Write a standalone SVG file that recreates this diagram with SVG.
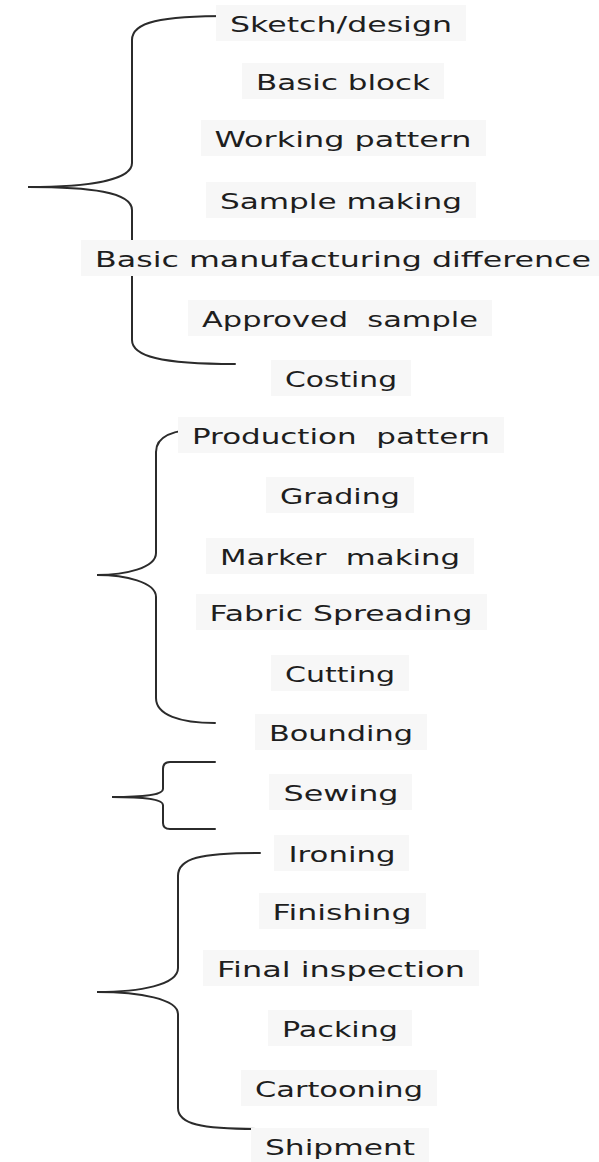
<svg xmlns="http://www.w3.org/2000/svg" width="599" height="1162" viewBox="0 0 599 1162">
<style>
  .bg { fill: #f7f7f7; }
  .lbl { font-family: "DejaVu Sans", "Liberation Sans", sans-serif; font-size: 21px; fill: #1e1e1e; text-anchor: middle; white-space: pre; }
  .brace { fill: none; stroke: #2b2b2b; stroke-width: 2; stroke-linecap: round; }
</style>
<rect width="599" height="1162" fill="#ffffff"/>
<g id="connectors">
  <path class="brace" d="M230,16 C160,16 132,22 132,40 L132,163 C132,180 90,187 28,187 C90,187 132,192 132,210 L132,340 C132,356 160,364 235,364"/>
  <path class="brace" d="M205,429 C175,429 156,436 156,452 L156,553 C156,568 125,575 97,575 C125,575 156,582 156,597 L156,698 C156,715 180,723 215,723"/>
  <path class="brace" d="M215,762 L170,762 C165,762 163,764 163,769 L163,789 C163,794 150,797 112,797 C150,797 163,800 163,805 L163,823 C163,827 165,829 170,829 L215,829"/>
  <path class="brace" d="M260,853 C200,853 178,858 178,876 L178,968 C178,985 140,992 97,992 C140,992 178,999 178,1014 L178,1108 C178,1124 200,1129 260,1129"/>
</g>
<g id="n1"><rect class="bg" x="216" y="5" width="250" height="36"/><text class="lbl" x="341" y="32" textLength="222" lengthAdjust="spacingAndGlyphs">Sketch/design</text></g>
<g id="n2"><rect class="bg" x="242" y="63" width="202" height="36"/><text class="lbl" x="343" y="90" textLength="174" lengthAdjust="spacingAndGlyphs">Basic block</text></g>
<g id="n3"><rect class="bg" x="201" y="120" width="285" height="36"/><text class="lbl" x="343" y="147" textLength="257" lengthAdjust="spacingAndGlyphs">Working pattern</text></g>
<g id="n4"><rect class="bg" x="206" y="182" width="270" height="36"/><text class="lbl" x="341" y="209" textLength="242" lengthAdjust="spacingAndGlyphs">Sample making</text></g>
<g id="n5"><rect class="bg" x="81" y="240" width="518" height="36"/><text class="lbl" x="343" y="267" textLength="496" lengthAdjust="spacingAndGlyphs">Basic manufacturing difference</text></g>
<g id="n6"><rect class="bg" x="188" y="300" width="304" height="36"/><text class="lbl" x="340" y="327" textLength="276" lengthAdjust="spacingAndGlyphs">Approved  sample</text></g>
<g id="n7"><rect class="bg" x="271" y="360" width="140" height="36"/><text class="lbl" x="341" y="387" textLength="112" lengthAdjust="spacingAndGlyphs">Costing</text></g>
<g id="n8"><rect class="bg" x="178" y="417" width="326" height="36"/><text class="lbl" x="341" y="444" textLength="298" lengthAdjust="spacingAndGlyphs">Production  pattern</text></g>
<g id="n9"><rect class="bg" x="266" y="477" width="148" height="36"/><text class="lbl" x="340" y="504" textLength="120" lengthAdjust="spacingAndGlyphs">Grading</text></g>
<g id="n10"><rect class="bg" x="206" y="538" width="268" height="36"/><text class="lbl" x="340" y="565" textLength="240" lengthAdjust="spacingAndGlyphs">Marker  making</text></g>
<g id="n11"><rect class="bg" x="196" y="594" width="291" height="36"/><text class="lbl" x="341" y="621" textLength="263" lengthAdjust="spacingAndGlyphs">Fabric Spreading</text></g>
<g id="n12"><rect class="bg" x="271" y="655" width="138" height="36"/><text class="lbl" x="340" y="682" textLength="110" lengthAdjust="spacingAndGlyphs">Cutting</text></g>
<g id="n13"><rect class="bg" x="255" y="714" width="172" height="36"/><text class="lbl" x="341" y="741" textLength="144" lengthAdjust="spacingAndGlyphs">Bounding</text></g>
<g id="n14"><rect class="bg" x="269" y="774" width="143" height="36"/><text class="lbl" x="341" y="801" textLength="115" lengthAdjust="spacingAndGlyphs">Sewing</text></g>
<g id="n15"><rect class="bg" x="274" y="835" width="135" height="36"/><text class="lbl" x="342" y="862" textLength="107" lengthAdjust="spacingAndGlyphs">Ironing</text></g>
<g id="n16"><rect class="bg" x="259" y="893" width="167" height="36"/><text class="lbl" x="342" y="920" textLength="139" lengthAdjust="spacingAndGlyphs">Finishing</text></g>
<g id="n17"><rect class="bg" x="203" y="950" width="276" height="36"/><text class="lbl" x="341" y="977" textLength="248" lengthAdjust="spacingAndGlyphs">Final inspection</text></g>
<g id="n18"><rect class="bg" x="268" y="1010" width="144" height="36"/><text class="lbl" x="340" y="1037" textLength="116" lengthAdjust="spacingAndGlyphs">Packing</text></g>
<g id="n19"><rect class="bg" x="241" y="1070" width="196" height="36"/><text class="lbl" x="339" y="1097" textLength="168" lengthAdjust="spacingAndGlyphs">Cartooning</text></g>
<g id="n20"><rect class="bg" x="251" y="1128" width="178" height="34"/><text class="lbl" x="340" y="1155" textLength="150" lengthAdjust="spacingAndGlyphs">Shipment</text></g>
</svg>
